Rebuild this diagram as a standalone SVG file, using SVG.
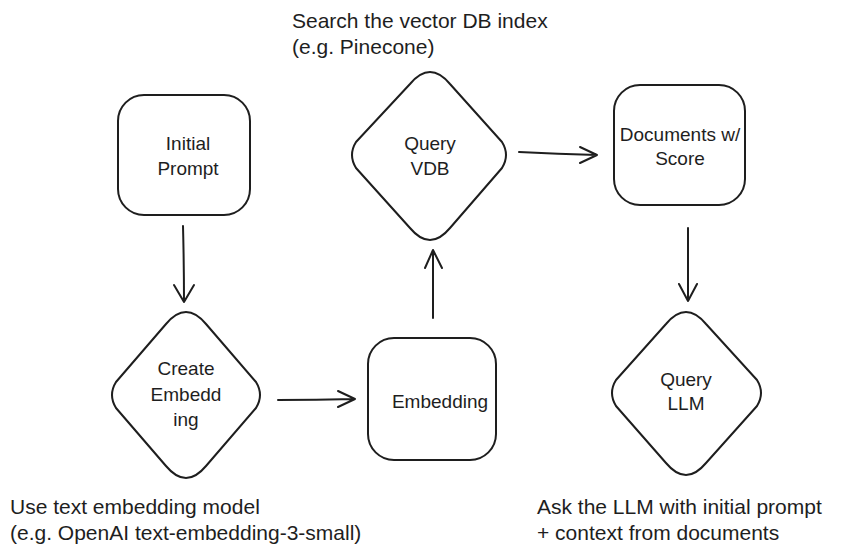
<svg xmlns="http://www.w3.org/2000/svg" width="851" height="556" viewBox="0 0 851 556">
<defs>
<style>
.n{fill:#fff;stroke:#1e1e1e;stroke-width:2;stroke-linejoin:round}
.t{font-family:"Comic Sans MS","Liberation Sans",sans-serif;font-size:19px;fill:#1e1e1e;text-anchor:middle}
.a{font-family:"Comic Sans MS","Liberation Sans",sans-serif;font-size:21px;fill:#1e1e1e}
.c{stroke:#1e1e1e;stroke-width:2;fill:none;stroke-linecap:round;stroke-linejoin:round}
</style>
</defs>
<rect width="851" height="556" fill="#fff"/>
<g id="initial-prompt"><rect class="n" x="118" y="95" width="132" height="120" rx="26"/><text class="t" x="188" y="150">Initial</text><text class="t" x="188" y="175">Prompt</text></g>
<g id="create-embedding"><path class="n" d="M186 312 Q196 312 206 324 L256 382 Q264 395 256 408 L206 466 Q196 478 186 478 Q176 478 166 466 L116 408 Q108 395 116 382 L166 324 Q176 312 186 312Z"/><text class="t" x="186" y="375">Create</text><text class="t" x="186" y="401">Embedd</text><text class="t" x="186" y="426">ing</text></g>
<g id="embedding"><rect class="n" x="368" y="338" width="128" height="122" rx="26"/><text class="t" x="440" y="408">Embedding</text></g>
<g id="query-vdb"><path class="n" d="M430 72 Q440 72 450 84 L502 142 Q510 155 502 168 L450 228 Q440 240 430 240 Q420 240 410 228 L356 168 Q348 155 356 142 L410 84 Q420 72 430 72Z"/><text class="t" x="430" y="150">Query</text><text class="t" x="430" y="175">VDB</text></g>
<g id="documents"><rect class="n" x="614" y="85" width="131" height="120" rx="26"/><text class="t" x="680" y="141">Documents w/</text><text class="t" x="680" y="165">Score</text></g>
<g id="query-llm"><path class="n" d="M686 312 Q696 312 706 324 L757 380 Q765 393 757 406 L706 463 Q696 475 686 475 Q676 475 666 463 L616 406 Q608 393 616 380 L666 324 Q676 312 686 312Z"/><text class="t" x="686" y="386">Query</text><text class="t" x="686" y="410">LLM</text></g>
<g id="connectors">
<path class="c" d="M183 226 Q184 265 184 302 M174 285 L184 302 L194 285"/>
<path class="c" d="M278 400 Q316 400 355 399 M338 391 L355 399 L338 407"/>
<path class="c" d="M433 318 Q433 285 433 250 M425 268 L433 250 L442 268"/>
<path class="c" d="M519 152 Q558 154 597 155 M580 147 L597 155 L580 163"/>
<path class="c" d="M688 228 Q688 265 688 301 M679 284 L688 301 L697 284"/>
</g>
<g id="notes">
<text class="a" x="292" y="28">Search the vector DB index</text>
<text class="a" x="292" y="54">(e.g. Pinecone)</text>
<text class="a" x="10" y="514">Use text embedding model</text>
<text class="a" x="10" y="540">(e.g. OpenAI text-embedding-3-small)</text>
<text class="a" x="537" y="514">Ask the LLM with initial prompt</text>
<text class="a" x="537" y="540">+ context from documents</text>
</g>
</svg>
